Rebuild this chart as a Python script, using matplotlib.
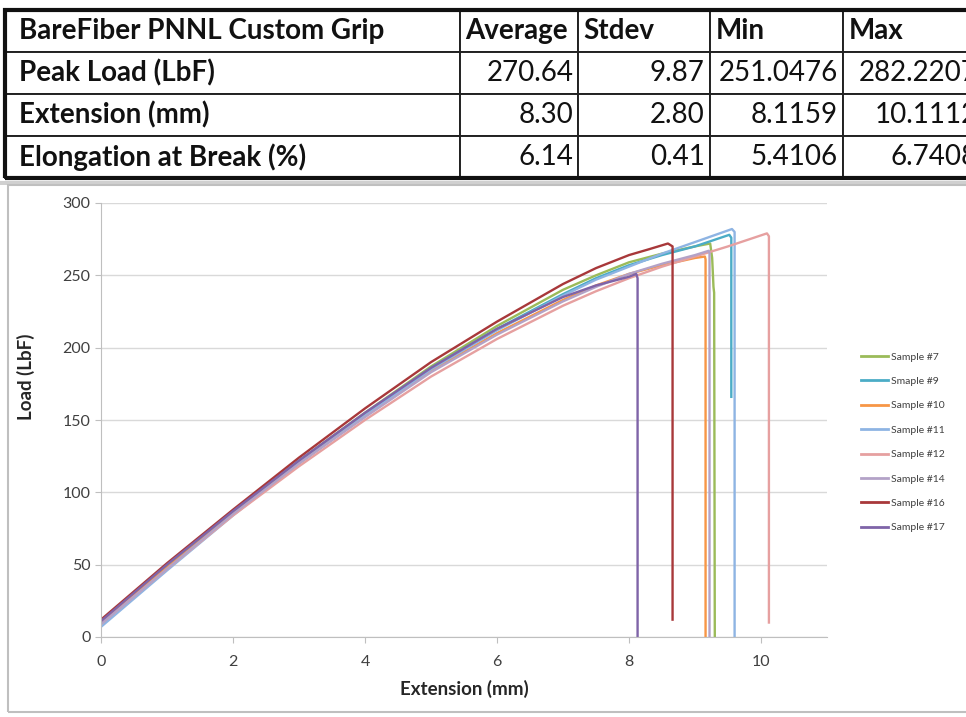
import matplotlib
matplotlib.use("Agg")
import matplotlib.pyplot as plt
from matplotlib.patches import Rectangle
from matplotlib.lines import Line2D

plt.rcParams['font.family'] = ['Liberation Sans Narrow', 'Lato', 'DejaVu Sans']

# summary table
table_cols = ["BareFiber PNNL Custom Grip", "Average", "Stdev", "Min", "Max"]
table_rows = ["Peak Load (LbF)", "Extension (mm)", "Elongation at Break (%)"]
table_vals = [
    ["270.64", "9.87", "251.0476", "282.2207"],
    ["8.30", "2.80", "8.1159", "10.1112"],
    ["6.14", "0.41", "5.4106", "6.7408"],
]

# load-extension curves
samples = ["Sample #7", "Smaple #9", "Sample #10", "Sample #11",
           "Sample #12", "Sample #14", "Sample #16", "Sample #17"]
colors = ["#9BBB59", "#4BACC6", "#F79646", "#8EB4E3",
          "#E6A0A0", "#B3A2C7", "#A8383A", "#7F64A8"]

ext_7 = [0, 1, 2, 3, 4, 5, 6, 7, 7.5, 8, 8.5, 9, 9.23, 9.26, 9.28, 9.29, 9.30]
load_7 = [10, 49, 87, 122, 155, 187, 215, 240, 250, 259, 265, 270, 272, 262, 242, 238, 0]
ext_9 = [0, 1, 2, 3, 4, 5, 6, 7, 7.5, 8, 8.5, 9, 9.52, 9.55, 9.55]
load_9 = [9, 48, 86, 121, 154, 186, 213, 237, 248, 257, 264, 270, 278, 276, 166]
ext_10 = [0, 1, 2, 3, 4, 5, 6, 7, 7.5, 8, 8.5, 9, 9.15, 9.16, 9.16]
load_10 = [10, 48, 85, 120, 153, 184, 210, 233, 243, 251, 257, 262, 263, 261, 0]
ext_11 = [0, 1, 2, 3, 4, 5, 6, 7, 7.5, 8, 8.5, 9, 9.56, 9.60, 9.60]
load_11 = [7, 46, 84, 120, 153, 185, 212, 236, 247, 256, 265, 273, 282, 280, 0]
ext_12 = [0, 1, 2, 3, 4, 5, 6, 7, 7.5, 8, 8.5, 9, 9.5, 10.09, 10.12, 10.12]
load_12 = [9, 47, 84, 118, 150, 180, 206, 229, 239, 248, 256, 263, 270, 279, 277, 10]
ext_14 = [0, 1, 2, 3, 4, 5, 6, 7, 7.5, 8, 8.5, 9, 9.21, 9.22, 9.22]
load_14 = [9, 47, 85, 120, 152, 183, 209, 232, 242, 251, 258, 264, 267, 265, 0]
ext_16 = [0, 1, 2, 3, 4, 5, 6, 7, 7.5, 8, 8.3, 8.59, 8.66, 8.66]
load_16 = [12, 51, 88, 124, 158, 190, 218, 244, 255, 264, 268, 272, 270, 12]
ext_17 = [0, 1, 2, 3, 4, 5, 6, 7, 7.5, 8, 8.11, 8.13, 8.13]
load_17 = [11, 50, 87, 122, 155, 186, 213, 235, 243, 249, 251, 248, 0]

exts = [ext_7, ext_9, ext_10, ext_11, ext_12, ext_14, ext_16, ext_17]
loads = [load_7, load_9, load_10, load_11, load_12, load_14, load_16, load_17]

W, H = 966, 717
fig = plt.figure(figsize=(W / 100, H / 100), dpi=100)

# ---- table across the top (runs past the right edge like the source)
tab_ax = fig.add_axes([5 / W, 1 - 178 / H, 975 / W, 168 / H])
tab_ax.axis("off")
cells = [table_cols] + [[r] + v for r, v in zip(table_rows, table_vals)]
col_w = [455, 118, 132, 133, 137]
tbl = tab_ax.table(cellText=cells, colWidths=[w / sum(col_w) for w in col_w],
                   bbox=[0, 0, 1, 1], edges="closed")
tbl.auto_set_font_size(False)
for (r, c), cell in tbl.get_celld().items():
    cell.set_linewidth(1.4)
    cell.set_edgecolor("#222222")
    cell.PAD = 0.03 if c == 0 else 0.04
    txt = cell.get_text()
    txt.set_fontsize(20)
    txt.set_color("#111111")
    if r == 0 or c == 0:
        txt.set_fontweight("bold")
        cell._loc = "left"
        txt.set_horizontalalignment("left")
    else:
        cell._loc = "right"
        txt.set_horizontalalignment("right")
        cell.PAD = 0.04 if c != 4 else 0.015
tab_ax.add_patch(Rectangle((0, 0), 1, 1, transform=tab_ax.transAxes, fill=False,
                           lw=3, ec="#111111", clip_on=False))

# grey band + frame round the chart
fig.add_artist(Rectangle((0, 1 - 185 / H), 1, 4 / H, transform=fig.transFigure,
                         fc="#D0D0D0", ec="none"))
fig.add_artist(Rectangle((8 / W, 1 - 712 / H), 970 / W, 527 / H, transform=fig.transFigure,
                         fill=False, ec="#BFBFBF", lw=1.5))

# ---- chart
ax = fig.add_axes([101 / W, 1 - 637 / H, 726 / W, 434 / H])
for name, col, x, y in zip(samples, colors, exts, loads):
    ax.plot(x, y, color=col, lw=1.7, label=name)

ax.set_xlim(0, 11)
ax.set_ylim(0, 300)
ax.set_xticks([0, 2, 4, 6, 8, 10])
ax.set_yticks(range(0, 301, 50))
ax.grid(axis="y", color="#D9D9D9", lw=1)
ax.set_axisbelow(True)
for s in ["top", "right"]:
    ax.spines[s].set_visible(False)
for s in ["left", "bottom"]:
    ax.spines[s].set_color("#BFBFBF")
ax.tick_params(colors="#BFBFBF", labelcolor="#404040", labelsize=11.5, length=4)
ax.tick_params(axis="x", pad=9)
ax.set_xlabel("Extension (mm)", fontsize=13.5, fontweight="bold", color="#262626")
ax.set_ylabel("Load (LbF)", fontsize=13.5, fontweight="bold", color="#262626")
ax.xaxis.set_label_coords(0.501, -0.099)
ax.yaxis.set_label_coords(-0.091, 0.60)

handles = [Line2D([], [], color=c, lw=2) for c in colors]
fig.legend(handles, samples, loc="upper left", bbox_to_anchor=(852 / W, 1 - 343 / H),
           frameon=False, fontsize=7.5, handlelength=2.6, handletextpad=0.2,
           labelspacing=1.45, labelcolor="#404040")

fig.savefig("out.png", dpi=100)
